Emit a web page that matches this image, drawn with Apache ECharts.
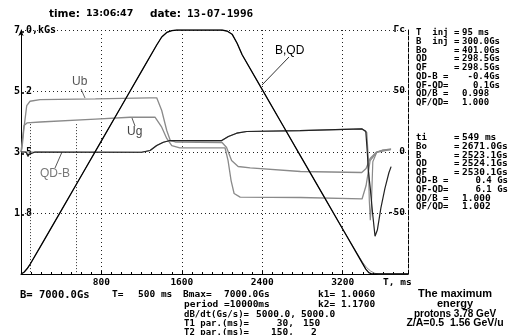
<!DOCTYPE html>
<html><head><meta charset="utf-8">
<script src="https://cdn.jsdelivr.net/npm/echarts@6/dist/echarts.min.js"></script>
<style>html,body{margin:0;padding:0;background:#fff}#c{width:515px;height:335px}</style>
</head><body><div id="c"></div>
<script>
// ---- data (time in ms) ----
const xTickLabels = [800, 1600, 2400, 3200];
const leftTickLabels = {0: '', 1.75: '1.8', 3.5: '3.5', 5.25: '5.2', 7: '7.0,kGs'};
const rightTickLabels = {'-100': '', '-50': '-50', '0': '0', '50': '50', '100': 'Гс'};

// B (kGs)
const bTime = [0, 30, 60, 95, 200, 400, 600, 800, 1000, 1200, 1350, 1400, 1450, 1500, 1550, 2000, 2050, 2100, 2150, 2200, 2400, 2600, 2800, 3000, 3200, 3350, 3400, 3430, 3460, 3490, 3850];
const bValue = [0, 0.05, 0.15, 0.3, 0.82, 1.82, 2.82, 3.82, 4.82, 5.82, 6.57, 6.8, 6.93, 6.98, 7.0, 7.0, 6.97, 6.88, 6.62, 6.29, 5.29, 4.29, 3.29, 2.29, 1.29, 0.54, 0.29, 0.14, 0.04, 0, 0];
// QD (kGs) – follows B, with a slightly slower tail
const qdTime = [0, 30, 60, 95, 200, 400, 600, 800, 1000, 1200, 1350, 1400, 1450, 1500, 1550, 2000, 2050, 2100, 2150, 2200, 2400, 2600, 2800, 3000, 3200, 3350, 3400, 3440, 3480, 3520, 3560, 3850];
const qdValue = [0, 0.05, 0.15, 0.3, 0.82, 1.82, 2.82, 3.82, 4.82, 5.82, 6.57, 6.8, 6.93, 6.98, 7.0, 7.0, 6.97, 6.88, 6.62, 6.29, 5.29, 4.29, 3.29, 2.29, 1.29, 0.56, 0.33, 0.18, 0.08, 0.02, 0, 0];
// Ub (right scale)
const ubTime = [0, 10, 30, 57, 90, 190, 740, 1280, 1350, 1365, 1400, 1450, 1485, 1535, 2000, 2045, 2095, 2160, 2280, 2780, 3390, 3433, 3473, 3532, 3602, 3682];
const ubValue = [0, 3, 20, 38, 41.6, 43, 43.6, 44.3, 44.4, 42.8, 34, 17.6, 9.4, 8.2, 7.8, 3.7, -7, -11.9, -13, -16, -16.8, -13.5, -5.3, -0.4, 1.6, 2.5];
// Ug (right scale)
const ugTime = [0, 30, 60, 190, 740, 1085, 1333, 1400, 1450, 1500, 1580, 2030, 2060, 2090, 2120, 2180, 2780, 3393, 3433, 3473, 3540, 3672];
const ugValue = [0, 21.7, 23.8, 24.6, 27, 28.5, 28.6, 20.3, 11.1, 5.3, 3.4, 3.3, -7, -23.4, -34, -37, -37.3, -38.5, -27.5, -7, -0.2, 2];
// QD-B (Гс, right scale)
const qdbTime = [0, 50, 62, 70, 80, 95, 140, 1200, 1284, 1350, 1416, 1483, 1997, 2063, 2146, 2246, 2776, 3393, 3430, 3445, 3455, 3475, 3500, 3522, 3545, 3580, 3620, 3660, 3682];
const qdbValue = [0, 0, -2, -3.7, -2, -0.4, 0, -0.2, 1.2, 5.3, 8, 9.4, 9.4, 12.7, 15.4, 16.8, 17.6, 18.9, 17, 0, -15, -30, -52, -69, -64, -46, -30, -17, -12];
// QF-QD (Гс, right scale)
const qfqdTime = [0, 1200, 1284, 1350, 1416, 1483, 1997, 2063, 2146, 2246, 2776, 3393, 3440, 3455, 3465, 3475, 3485, 3500, 3540, 3600, 3680];
const qfqdValue = [0, -0.2, 1.2, 5.3, 8, 9.4, 9.4, 12.7, 15.4, 16.8, 17.6, 18.9, 16, -5, -40, -56, -45, -8, 0, 1.5, 2];
// markers (ms)
const markerTimes = [95, 549];

// ---- text ----
const info1Labels = ['T  inj =', 'B  inj =', 'Bo     =', 'QD     =', 'QF     =', 'QD-B =', 'QF-QD=', 'QD/B =', 'QF/QD='];
const info1Values = ['95 ms', '300.0Gs', '401.0Gs', '298.5Gs', '298.5Gs', '-0.4Gs', '0.1Gs', '0.998', '1.000'];
const info2Labels = ['ti     =', 'Bo     =', 'B      =', 'QD     =', 'QF     =', 'QD-B =', 'QF-QD=', 'QD/B =', 'QF/QD='];
const info2Values = ['549 ms', '2671.0Gs', '2523.1Gs', '2524.1Gs', '2530.1Gs', '0.4 Gs', '6.1 Gs', '1.000', '1.002'];

const zip = (a, b) => a.map((t, i) => [t, b[i]]);
const chart = echarts.init(document.getElementById('c'), null, {renderer: 'canvas'});
const mono = 'DejaVu Sans Mono';
const dotted = {color: '#222', type: [1, 3], width: 1};
const grey = '#8a8a8a';

const series = [
  {name: 'QD', type: 'line', yAxisIndex: 0, data: zip(qdTime, qdValue), showSymbol: false, lineStyle: {color: grey, width: 1}, z: 2},
  {name: 'B', type: 'line', yAxisIndex: 0, data: zip(bTime, bValue), showSymbol: false, lineStyle: {color: '#000', width: 1.3}, z: 5,
    markLine: {silent: true, symbol: 'none', label: {show: false}, lineStyle: {color: '#333', type: [1, 2], width: 1},
      data: markerTimes.map(t => [{coord: [t, 4.3]}, {coord: [t, 0]}])}},
  {name: 'QF-QD', type: 'line', yAxisIndex: 1, data: zip(qfqdTime, qfqdValue), showSymbol: false, lineStyle: {color: grey, width: 1.2}, z: 2},
  {name: 'Ub', type: 'line', yAxisIndex: 1, data: zip(ubTime, ubValue), showSymbol: false, lineStyle: {color: grey, width: 1.3}, z: 3},
  {name: 'Ug', type: 'line', yAxisIndex: 1, data: zip(ugTime, ugValue), showSymbol: false, lineStyle: {color: grey, width: 1.3}, z: 3},
  {name: 'QD-B', type: 'line', yAxisIndex: 1, data: zip(qdbTime, qdbValue), showSymbol: false, lineStyle: {color: '#222', width: 1.2}, z: 4}
];

const T = (text, x, y, font, opt) => Object.assign({type: 'text', x: x, y: y, silent: true,
  style: Object.assign({text: text, font: font, fill: '#000', align: 'left', verticalAlign: 'middle'}, opt || {})});
const L = (x1, y1, x2, y2, c) => ({type: 'line', silent: true, shape: {x1, y1, x2, y2}, style: {stroke: c || '#555', lineWidth: 1}});

const fb = 'bold 9.5px ' + mono;
const fs = 'bold 9px ' + mono;
const g = [];
g.push(T('time:', 49, 14, 'bold 10.5px DejaVu Sans'));
g.push(T('13:06:47', 86, 14, 'bold 9.5px DejaVu Sans'));
g.push(T('date:', 150, 14, 'bold 10.5px DejaVu Sans'));
g.push(T('13-07-1996', 187, 14, 'bold 11px ' + mono));
info1Labels.forEach((s, i) => {
  const y = 33 + i * 8.7;
  g.push(T(s, 416, y, fs));
  const v = info1Values[i];
  if (/Gs$/.test(v)) g.push(T(v, 500, y, fs, {align: 'right'}));
  else g.push(T(v, 462, y, fs));
});
info2Labels.forEach((s, i) => {
  const y = 138 + i * 8.6;
  g.push(T(s, 416, y, fs));
  const v = info2Values[i];
  if (/ Gs$/.test(v)) g.push(T(v, 508, y, fs, {align: 'right'}));
  else g.push(T(v, 462, y, fb));
});
g.push(T('T, ms', 383, 283, fb));
// bottom parameter block
g.push(T('B= 7000.0Gs', 20, 295, 'bold 10.5px ' + mono));
g.push(T('T=', 112, 295, fb));
g.push(T('500 ms', 138, 295, fb));
g.push(T('Bmax=', 183, 295, fb));
g.push(T('7000.0Gs', 224, 295, fb));
g.push(T('k1= 1.0060', 318, 295, fb));
g.push(T('period =10000ms', 184, 305, fb));
g.push(T('k2= 1.1700', 318, 305, fb));
g.push(T('dB/dt(Gs/s)=', 184, 315, fs));
g.push(T('5000.0,', 256, 315, fb));
g.push(T('5000.0', 301, 315, fb));
g.push(T('T1 par.(ms)=', 184, 324, fs));
g.push(T('30,', 294, 324, fb, {align: 'right'}));
g.push(T('150', 303, 324, fb));
g.push(T('T2 par.(ms)=', 184, 332.5, fs));
g.push(T('150,', 294, 332.5, fb, {align: 'right'}));
g.push(T('2', 311, 332.5, fb));
const cx = 455;
g.push(T('The maximum', cx, 294, 'bold 11px Liberation Sans', {align: 'center'}));
g.push(T('energy', cx, 303.5, 'bold 11px Liberation Sans', {align: 'center'}));
g.push(T('protons 3.78 GeV', cx, 314, 'bold 10px Liberation Sans', {align: 'center'}));
g.push(T('Z/A=0.5  1.56 GeV/u', cx, 323.5, 'bold 10.5px Liberation Sans', {align: 'center'}));
// curve annotations
g.push(T('Ub', 72, 82, '12px Liberation Sans', {fill: '#555'}));
g.push(L(81, 89, 85, 98, '#666'));
g.push(T('Ug', 127, 132, '12px Liberation Sans', {fill: '#444'}));
g.push(L(132, 118, 135, 126, '#555'));
g.push(T('QD-B', 40, 174, '12px Liberation Sans', {fill: '#777'}));
g.push(L(55, 168, 62, 152, '#555'));
g.push(T('B,QD', 275, 51, '12px Liberation Sans', {fill: '#000'}));
g.push(L(289, 57, 262, 85, '#333'));

chart.setOption({
  animation: false,
  backgroundColor: '#fff',
  grid: {left: 21, right: 107, top: 30, bottom: 61, containLabel: false},
  xAxis: {type: 'value', min: 0, max: 3850, interval: 800,
    axisLine: {onZero: false, lineStyle: {color: '#000', width: 1}},
    axisTick: {show: true, inside: true, length: 3, lineStyle: {color: '#000'}},
    minorTick: {show: true, splitNumber: 8, length: 2, lineStyle: {color: '#000'}},
    axisLabel: {margin: 4, fontFamily: mono, fontWeight: 'bold', fontSize: 9.5, color: '#000',
      formatter: v => xTickLabels.includes(v) ? String(v) : ''},
    splitLine: {show: true, lineStyle: dotted}
  },
  yAxis: [
    {type: 'value', min: 0, max: 7, interval: 1.75, position: 'left',
      axisLine: {show: true, onZero: false, lineStyle: {color: '#000'}, symbol: ['none', 'arrow'], symbolSize: [4, 6]},
      axisTick: {show: false},
      axisLabel: {inside: true, margin: -7, fontFamily: mono, fontWeight: 'bold', fontSize: 10, color: '#000',
        formatter: v => (leftTickLabels[v] !== undefined ? leftTickLabels[v] : '')},
      splitLine: {show: true, lineStyle: dotted}},
    {type: 'value', min: -100, max: 100, interval: 50, position: 'right',
      axisLine: {show: true, onZero: false, lineStyle: {color: '#000', type: [4, 2]}},
      axisTick: {show: false},
      axisLabel: {inside: true, margin: 3, fontFamily: mono, fontWeight: 'bold', fontSize: 9.5, color: '#000',
        formatter: v => (rightTickLabels[String(v)] !== undefined ? rightTickLabels[String(v)] : '')},
      splitLine: {show: false}}
  ],
  series: series,
  graphic: g
});
</script></body></html>
